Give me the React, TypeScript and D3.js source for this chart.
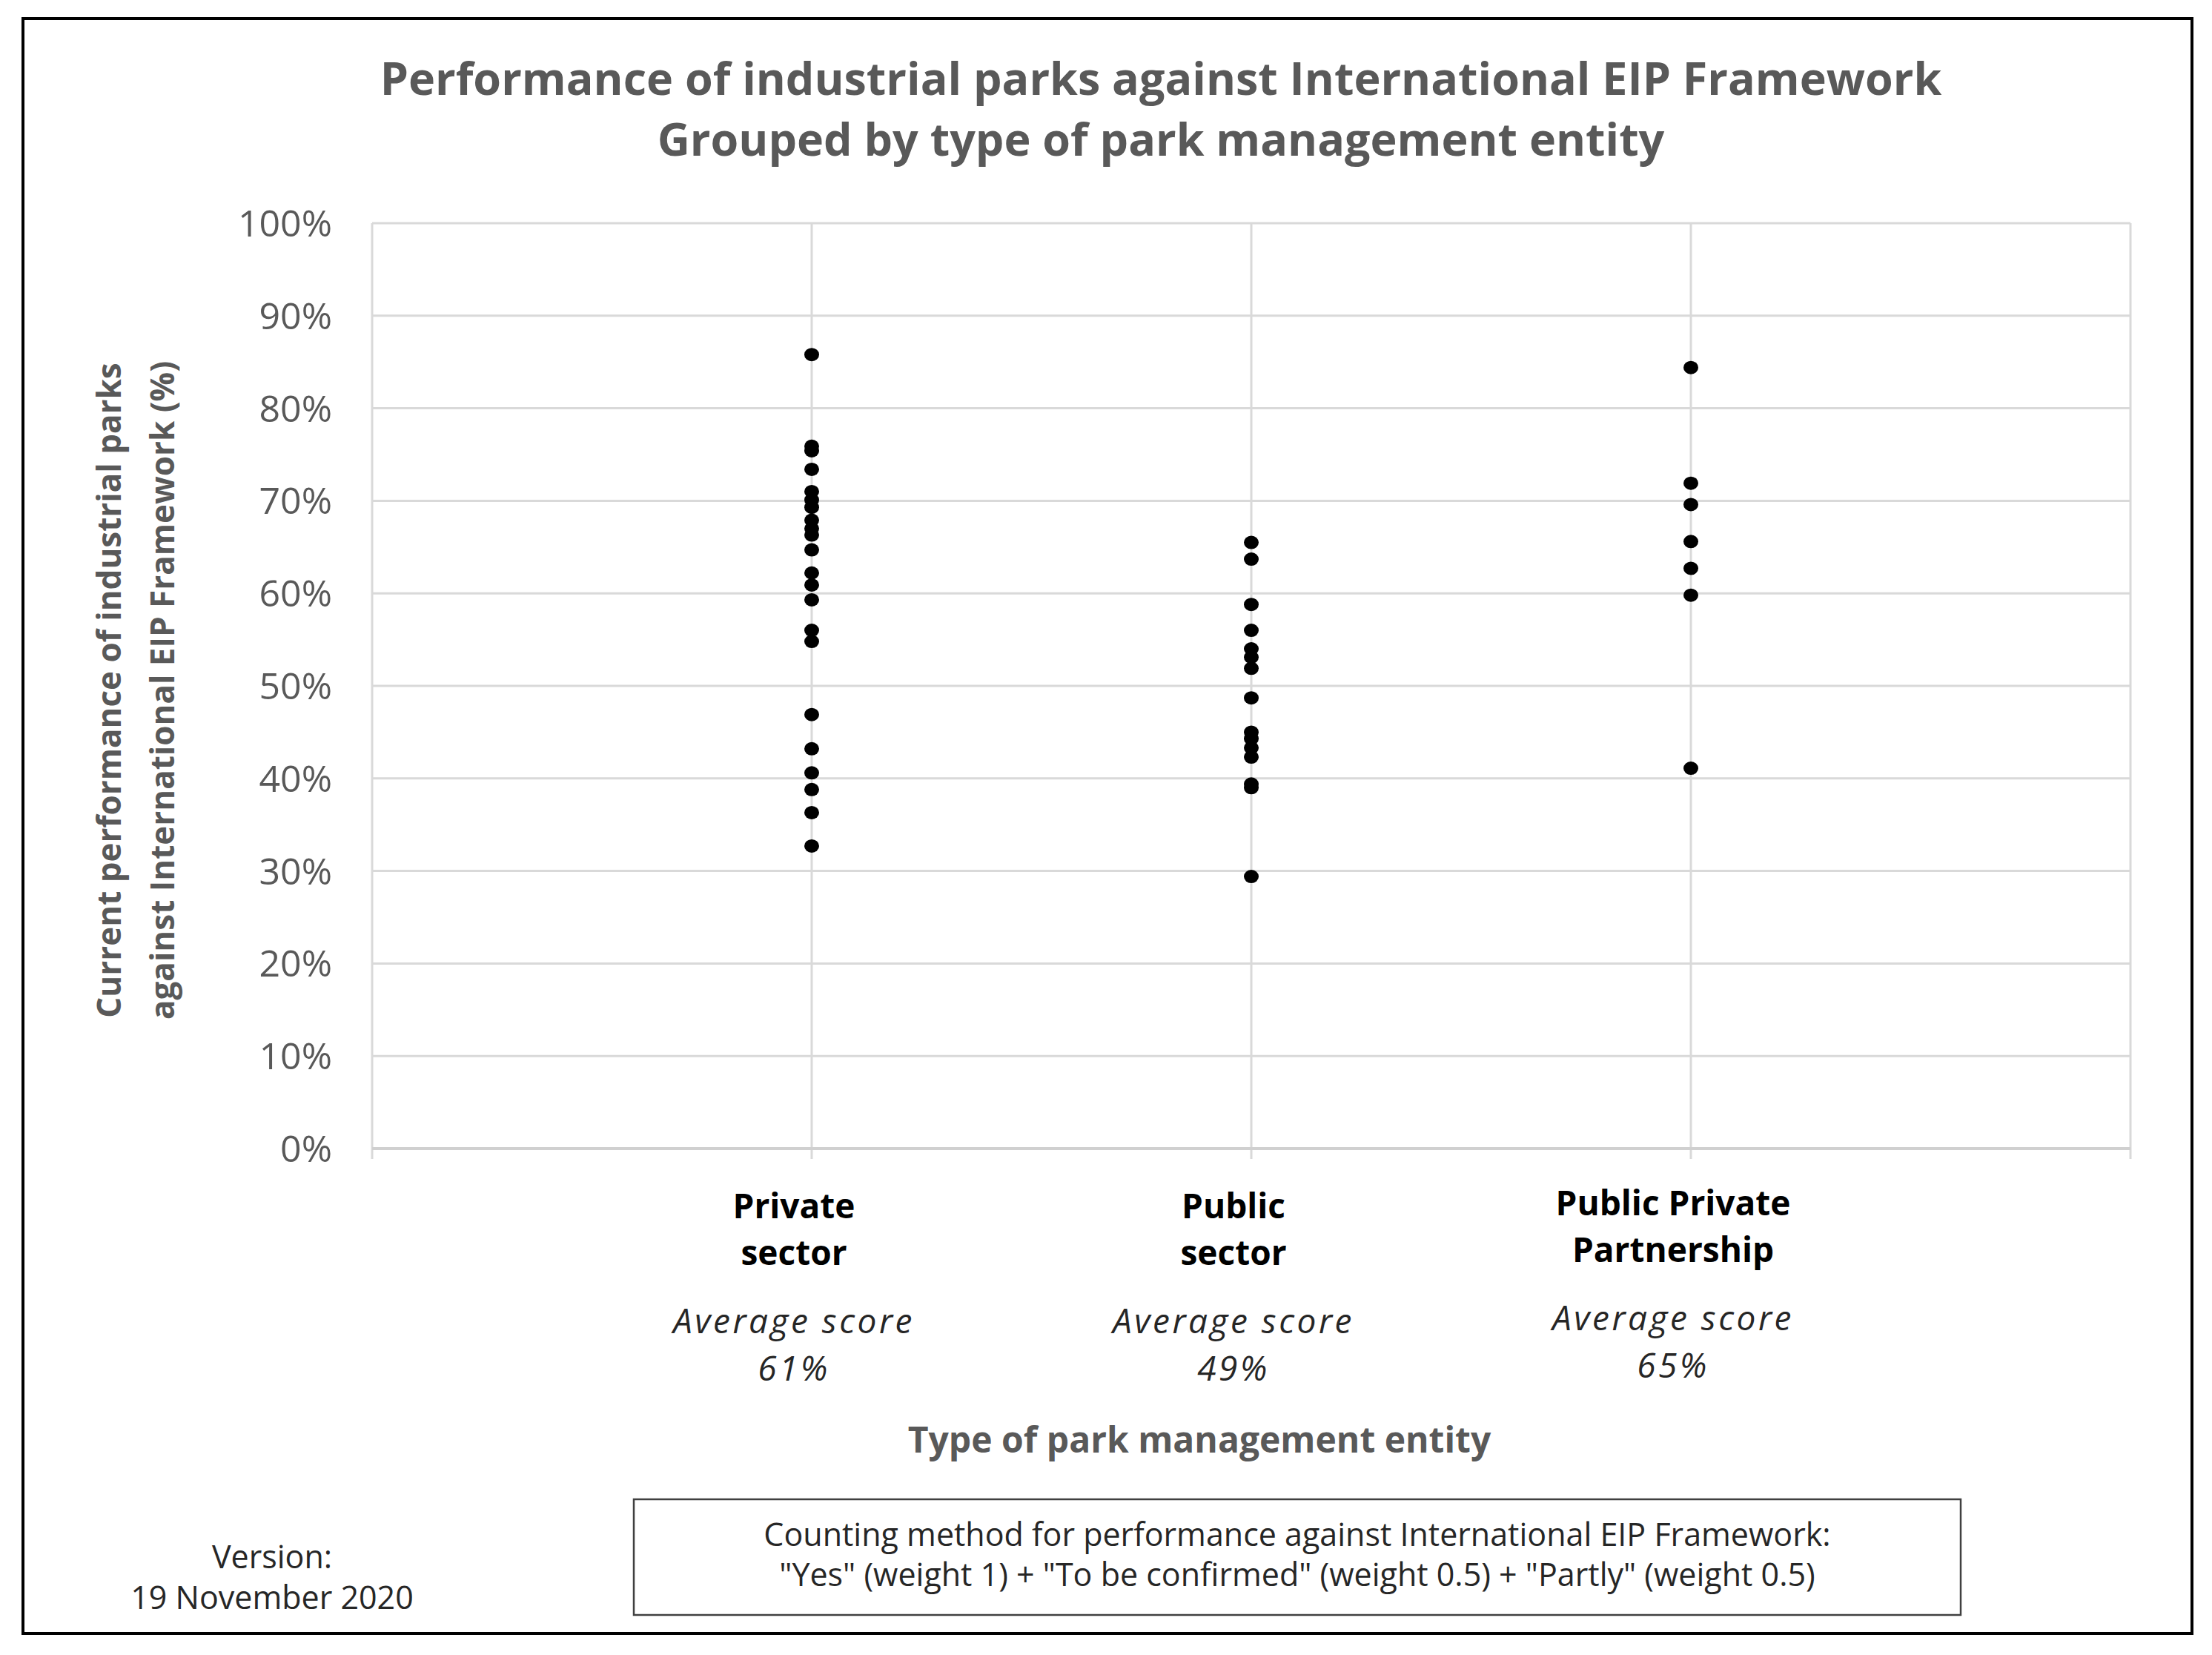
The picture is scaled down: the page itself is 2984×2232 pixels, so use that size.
import * as d3 from 'd3';

// Scores per park (share of International EIP Framework met)
const privateScores = [
  0.858, 0.759, 0.754, 0.734, 0.71, 0.701, 0.693, 0.679, 0.67, 0.663, 0.647, 0.622, 0.609, 0.593, 0.56,
  0.548, 0.469, 0.432, 0.406, 0.388, 0.363, 0.327,
];
const publicScores = [
  0.655, 0.637, 0.588, 0.56, 0.54, 0.531, 0.519, 0.487, 0.45, 0.443, 0.433, 0.423, 0.394, 0.39, 0.294,
];
const pppScores = [0.844, 0.719, 0.696, 0.656, 0.627, 0.598, 0.411];

const categoryLines = [
  ['Private', 'sector'],
  ['Public', 'sector'],
  ['Public Private', 'Partnership'],
];
const averageLabels = ['61%', '49%', '65%'];
const series = [privateScores, publicScores, pppScores];

const titleLines = [
  'Performance of industrial parks against International EIP Framework',
  'Grouped by type of park management entity',
];
const yTitleLines = ['Current performance of industrial parks', 'against International EIP Framework (%)'];
const xTitle = 'Type of park management entity';
const noteLines = [
  'Counting method for performance against International EIP Framework:',
  '"Yes" (weight 1) + "To be confirmed" (weight 0.5) + "Partly" (weight 0.5)',
];
const versionLines = ['Version:', '19 November 2020'];

const W = 2984;
const H = 2232;
const FONT = '"Open Sans", Lato, sans-serif';
const GREY = '#595959';
const GRID = '#d9d9d9';

export default function App() {
  const x = d3.scaleLinear().domain([0, 4]).range([502, 2874]);
  const y = d3.scaleLinear().domain([0, 1]).range([1549, 301]);
  const yTicks = y.ticks(10);
  const xTicks = x.ticks(4);
  const pct = d3.format('.0%');

  const labelBase = [1643, 1643, 1639];

  return (
    <svg width={W} height={H} style={{ position: 'absolute', left: 0, top: 0, background: '#fff' }} fontFamily={FONT}>
      <rect x={0} y={0} width={W} height={H} fill="#fff" />
      <rect x={31} y={25} width={2926} height={2178} fill="none" stroke="#000" strokeWidth={4} />

      {/* title */}
      <g fill={GREY} fontWeight={700} fontSize={61} textAnchor="middle">
        {titleLines.map((t, i) => (
          <text key={i} x={1566} y={128 + i * 82}>
            {t}
          </text>
        ))}
      </g>

      {/* gridlines */}
      <g stroke={GRID} strokeWidth={3}>
        {yTicks.slice(1).map((t) => (
          <line key={t} x1={x(0)} x2={x(4)} y1={y(t)} y2={y(t)} />
        ))}
        {xTicks.map((t) => (
          <line key={t} x1={x(t)} x2={x(t)} y1={y(1)} y2={y(0) + 14} />
        ))}
        <line x1={x(0)} x2={x(4)} y1={y(0)} y2={y(0)} strokeWidth={4} stroke="#d0d0d0" />
      </g>

      {/* y tick labels */}
      <g fill={GREY} fontSize={50} textAnchor="end">
        {yTicks.map((t) => (
          <text key={t} x={448} y={y(t)} dy="0.36em">
            {pct(t)}
          </text>
        ))}
      </g>

      {/* y axis title */}
      <g fill={GREY} fontWeight={700} fontSize={44} textAnchor="middle">
        {yTitleLines.map((t, i) => (
          <text key={i} transform={`translate(${163 + i * 72},931) rotate(-90)`}>
            {t}
          </text>
        ))}
      </g>

      {/* dots */}
      <g fill="#000">
        {series.map((s, i) =>
          s.map((v, j) => <ellipse key={`${i}-${j}`} cx={x(i + 1)} cy={y(v)} rx={10} ry={9} />),
        )}
      </g>

      {/* category labels */}
      {categoryLines.map((lines, i) => {
        const cx = x(i + 1) - 24;
        const b = labelBase[i];
        return (
          <g key={i} textAnchor="middle">
            {lines.map((l, k) => (
              <text key={k} x={cx} y={b + k * 63} fontWeight={700} fill="#000" fontSize={46}>
                {l}
              </text>
            ))}
            <text x={cx} y={b + 155} fontStyle="italic" fill="#262626" fontSize={46} letterSpacing={3.5}>
              Average score
            </text>
            <text x={cx} y={b + 219} fontStyle="italic" fill="#262626" fontSize={46} letterSpacing={3.5}>
              {averageLabels[i]}
            </text>
          </g>
        );
      })}

      {/* x axis title */}
      <text x={1618} y={1959} textAnchor="middle" fill={GREY} fontWeight={700} fontSize={48}>
        {xTitle}
      </text>

      {/* counting method note */}
      <rect x={855} y={2022} width={1790} height={156} fill="none" stroke="#404040" strokeWidth={2.5} />
      <g textAnchor="middle" fill="#262626" fontSize={43}>
        {noteLines.map((t, i) => (
          <text key={i} x={1750} y={2085 + i * 54}>
            {t}
          </text>
        ))}
      </g>

      {/* version */}
      <g textAnchor="middle" fill="#262626" fontSize={43}>
        {versionLines.map((t, i) => (
          <text key={i} x={367} y={2115 + i * 55}>
            {t}
          </text>
        ))}
      </g>
    </svg>
  );
}
